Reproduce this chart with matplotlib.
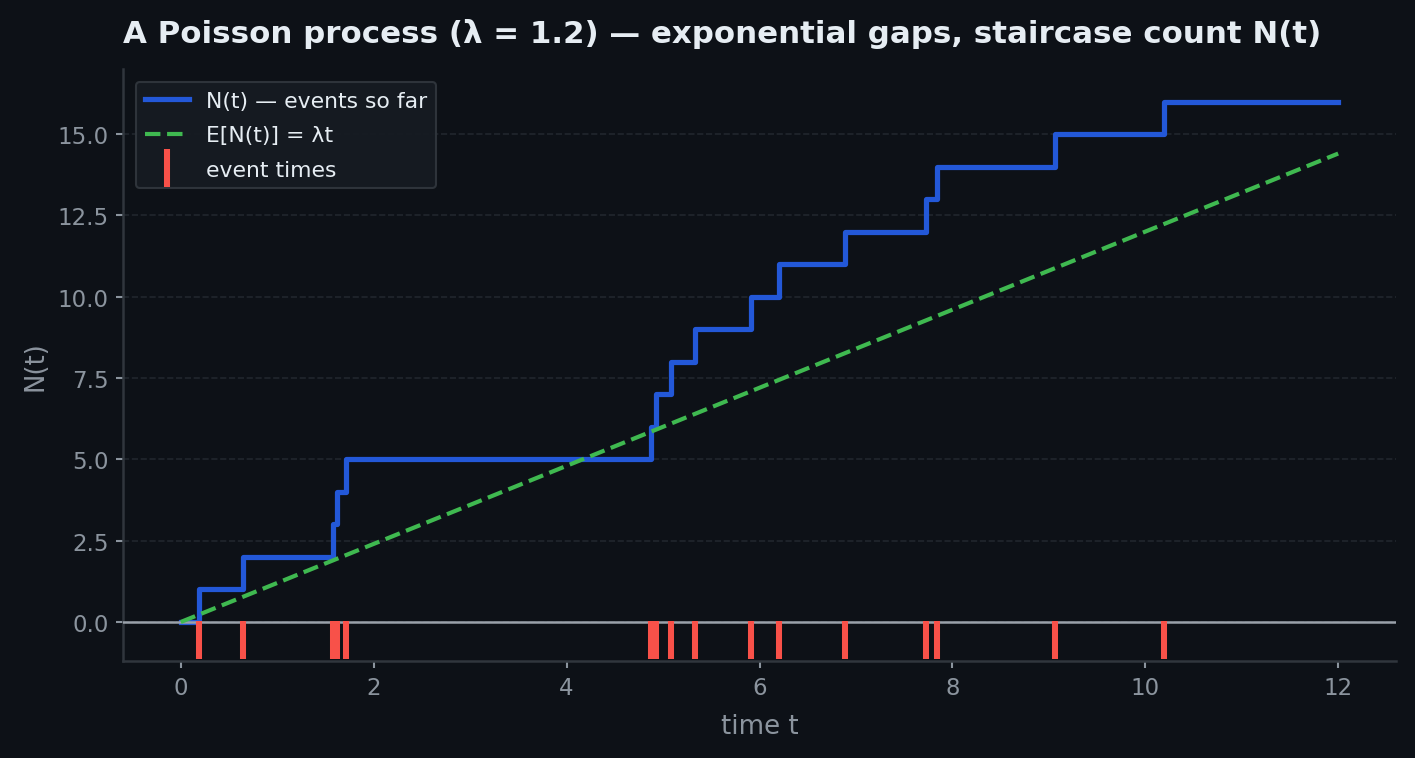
import numpy as np
import matplotlib
matplotlib.use("Agg")
import matplotlib.pyplot as plt

plt.rcParams["font.family"] = ["DejaVu Sans"]

# 事件时刻
event_times = [0.187, 0.643, 1.575, 1.615, 1.713, 4.872, 4.929, 5.080, 5.329,
               5.910, 6.200, 6.884, 7.725, 7.839, 9.062, 10.193]
lam = 1.2
t_end = 12.0

BG = "#0d1117"
PANEL = "#161b22"
EDGE = "#30363d"
MUTED = "#8b949e"
TEXT = "#e6edf3"
BLUE = "#2358d8"
GREEN = "#3fb950"
RED = "#f85149"

fig = plt.figure(figsize=(1415 / 150, 759 / 150), dpi=150, facecolor=BG)
ax = fig.add_axes([0.0869, 0.1278, 0.8997, 0.7800])
ax.set_facecolor(BG)

step_t = np.concatenate([[0.0], event_times, [t_end]])
step_n = np.concatenate([np.arange(len(event_times) + 1), [len(event_times)]])
ax.step(step_t, step_n, where="post", color=BLUE, linewidth=2.5,
        label="N(t) — events so far", zorder=2)

tt = np.array([0.0, t_end])
ax.plot(tt, lam * tt, color=GREEN, linewidth=2.0, linestyle="--",
        label="E[N(t)] = λt", zorder=4)

ax.axhline(0, color="#9aa1aa", linewidth=1.2, zorder=3)
ax.plot(event_times, np.full(len(event_times), -0.55), linestyle="none",
        marker="|", markersize=18, markeredgewidth=2.9, color=RED,
        label="event times", zorder=5)

ax.set_xlim(-0.6, 12.6)
ax.set_ylim(-1.2, 17.0)
ax.set_yticks([0, 2.5, 5, 7.5, 10, 12.5, 15])
ax.yaxis.set_major_formatter(matplotlib.ticker.FormatStrFormatter("%.1f"))

ax.grid(True, axis="y", color="#21262d", linestyle="--", linewidth=0.8, zorder=0)
ax.set_axisbelow(True)
for s in ("top", "right"):
    ax.spines[s].set_visible(False)
for s in ("left", "bottom"):
    ax.spines[s].set_color(EDGE)
    ax.spines[s].set_linewidth(1.2)
ax.tick_params(colors=MUTED, labelsize=11, length=3.5, width=1.0)

ax.set_xlabel("time t", color=MUTED, fontsize=12.5, labelpad=7)
ax.set_ylabel("N(t)", color=MUTED, fontsize=12.5)
ax.set_title("A Poisson process (λ = 1.2) — exponential gaps, staircase count N(t)",
             loc="left", color=TEXT, fontsize=14.85, fontweight="bold", pad=13)

leg = ax.legend(loc="upper left", fontsize=10.5, facecolor=PANEL, edgecolor=EDGE,
                framealpha=0.95, labelcolor=TEXT, labelspacing=0.66,
                borderaxespad=0.6)
leg.get_frame().set_linewidth(1.0)

fig.savefig("out.png", dpi=150, facecolor=BG)
